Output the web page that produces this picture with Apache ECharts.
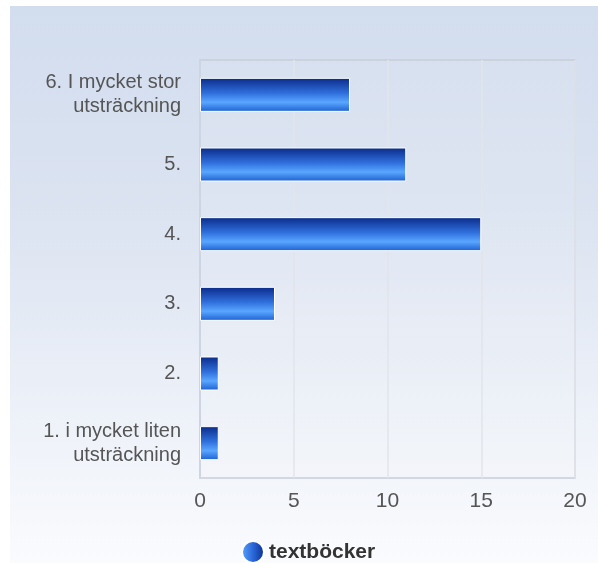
<!DOCTYPE html>
<html><head><meta charset="utf-8">
<script src="https://cdn.jsdelivr.net/npm/echarts@6/dist/echarts.min.js"></script>
<style>html,body{margin:0;padding:0;background:#fff}#c{width:598px;height:563px}</style>
</head><body><div id="c"></div>
<script>
const categories = ['1. i mycket liten\nutsträckning', '2.', '3.', '4.', '5.', '6. I mycket stor\nutsträckning'];
const values = [1, 1, 4, 15, 11, 8];
const seriesName = 'textböcker';
const xTicks = { min: 0, max: 20, interval: 5 };

const chart = echarts.init(document.getElementById('c'));
chart.setOption({
  animation: false,
  graphic: [{
    type: 'rect', z: -10, silent: true,
    shape: { x: 10, y: 6, width: 600, height: 570 },
    style: { fill: new echarts.graphic.LinearGradient(0, 0, 0, 1, [
      { offset: 0, color: '#d2ddee' }, { offset: 0.35, color: '#dbe3f1' }, { offset: 1, color: '#fbfcfe' }]) }
  }],
  grid: { left: 200, right: 23, top: 60, bottom: 85, show: true,
    backgroundColor: 'rgba(255,255,255,0.08)', borderColor: '#c9cdd6', borderWidth: 1.5 },
  xAxis: { type: 'value', min: xTicks.min, max: xTicks.max, interval: xTicks.interval,
    axisLine: { show: false }, axisTick: { show: false },
    axisLabel: { fontSize: 21, color: '#555', margin: 13, fontFamily: 'Liberation Sans, Arial' },
    splitLine: { lineStyle: { color: '#e2e4ea', width: 1.5 } } },
  yAxis: { type: 'category', data: categories,
    axisLine: { show: true, lineStyle: { color: '#cdd4e2', width: 2 } }, axisTick: { show: false },
    axisLabel: { fontSize: 20, color: '#555', margin: 19, lineHeight: 24, align: 'right', fontFamily: 'Liberation Sans, Arial' } },
  legend: { top: 535, left: 236, icon: 'circle', itemWidth: 22, itemHeight: 22, itemGap: 8,
    textStyle: { fontSize: 21, fontWeight: 'bold', color: '#333', fontFamily: 'Liberation Sans, Arial' },
    data: [{ name: seriesName, itemStyle: { color: new echarts.graphic.LinearGradient(0, 0, 1, 0, [
      { offset: 0, color: '#5aa6ff' }, { offset: 0.5, color: '#2a68d8' }, { offset: 1, color: '#0a2a8a' }]) } }] },
  series: [{
    name: seriesName, type: 'bar', data: values, barWidth: 34,
    itemStyle: { borderColor: '#ffffff', borderWidth: 1,
      color: new echarts.graphic.LinearGradient(0, 0, 0, 1, [
        { offset: 0, color: '#0a2a88' }, { offset: 0.45, color: '#2f6fdc' },
        { offset: 0.72, color: '#5aa6ff' }, { offset: 1, color: '#1c5fd0' }]) }
  }]
});
</script></body></html>
